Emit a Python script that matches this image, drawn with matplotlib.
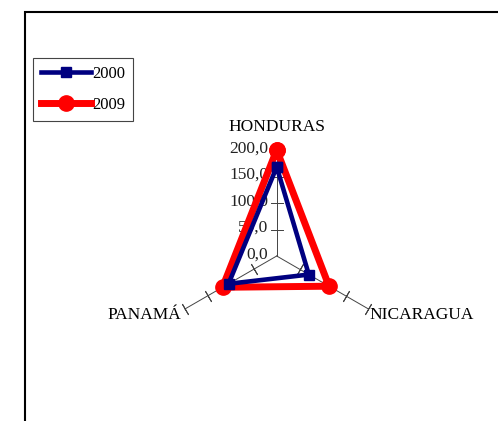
import numpy as np
import matplotlib
matplotlib.use("Agg")
import matplotlib.pyplot as plt
from matplotlib.patches import Rectangle
from matplotlib.lines import Line2D

paises = ["HONDURAS", "NICARAGUA", "PANAMÁ"]
v2000 = [168.0, 70.0, 105.0]
v2009 = [200.0, 114.0, 118.0]
ticks_r = [0, 50, 100, 150, 200]
ticks_lbl = ["0,0", "50,0", "100,0", "150,0", "200,0"]

plt.rcParams['font.family'] = ['Liberation Serif', 'DejaVu Serif']

fig = plt.figure(figsize=(4.98, 4.21), dpi=100)

# marco del grafico (cortado a la derecha y abajo)
fig.patches.append(Rectangle((25 / 498, -0.1), 1.2, 0.1 + 1 - 12 / 421,
                             transform=fig.transFigure, fill=False,
                             edgecolor='black', linewidth=1.5))

cx, cy, rad = 276.7 / 498, 1 - 256 / 421, 106
ax = fig.add_axes([cx - rad / 498, cy - rad / 421, 2 * rad / 498, 2 * rad / 421],
                  projection='polar')
ax.set_theta_offset(np.pi / 2)
ax.set_theta_direction(-1)
ax.set_ylim(0, 200)
ax.grid(False)
ax.set_xticks([])
ax.set_yticks([])
ax.spines['polar'].set_visible(False)
ax.patch.set_alpha(0)

ang = np.arange(len(paises)) * 2 * np.pi / len(paises)

# ejes radiales con marcas
for a in ang:
    ax.plot([a, a], [0, 200], color='#444444', lw=0.7, zorder=1, clip_on=False)
    rot = 90 - np.degrees(a)
    ax.plot([a] * 4, ticks_r[1:], ls='none', marker=(2, 2, rot),
            markersize=9, markeredgewidth=0.7, color='#444444', zorder=1,
            clip_on=False)

for r, t in zip(ticks_r, ticks_lbl):
    ax.annotate(t, (0, r), xytext=(-6, 1), textcoords='offset points',
                ha='right', va='center', fontsize=12.5, color='#222222')

a_c = np.append(ang, ang[0])
ax.plot(a_c, v2009 + v2009[:1], color='#ff0000', lw=5, marker='o',
        markersize=11, zorder=3, solid_joinstyle='round', clip_on=False)
ax.plot(a_c, v2000 + v2000[:1], color='#000080', lw=3.3, marker='s',
        markersize=7.5, zorder=4, solid_joinstyle='round', clip_on=False)

ax.annotate(paises[0], (ang[0], 200), xytext=(0, 11), textcoords='offset points',
            ha='center', va='bottom', fontsize=12.5)
ax.annotate(paises[1], (ang[1], 200), xytext=(1, -4), textcoords='offset points',
            ha='left', va='center', fontsize=12.5)
ax.annotate(paises[2], (ang[2], 200), xytext=(-3, -4), textcoords='offset points',
            ha='right', va='center', fontsize=12.5)

handles = [Line2D([], [], color='#000080', lw=3.3, marker='s', markersize=7.5),
           Line2D([], [], color='#ff0000', lw=5, marker='o', markersize=11)]
leg = fig.legend(handles, ['2000', '2009'], loc='upper left',
                 bbox_to_anchor=(33 / 498, 1 - 58 / 421), fontsize=12,
                 handlelength=3.0, handletextpad=0.1, labelspacing=0.95,
                 borderpad=0.45, borderaxespad=0, fancybox=False,
                 framealpha=1, edgecolor='#444444')
leg.get_frame().set_linewidth(0.8)

fig.savefig('out.png', dpi=100)
